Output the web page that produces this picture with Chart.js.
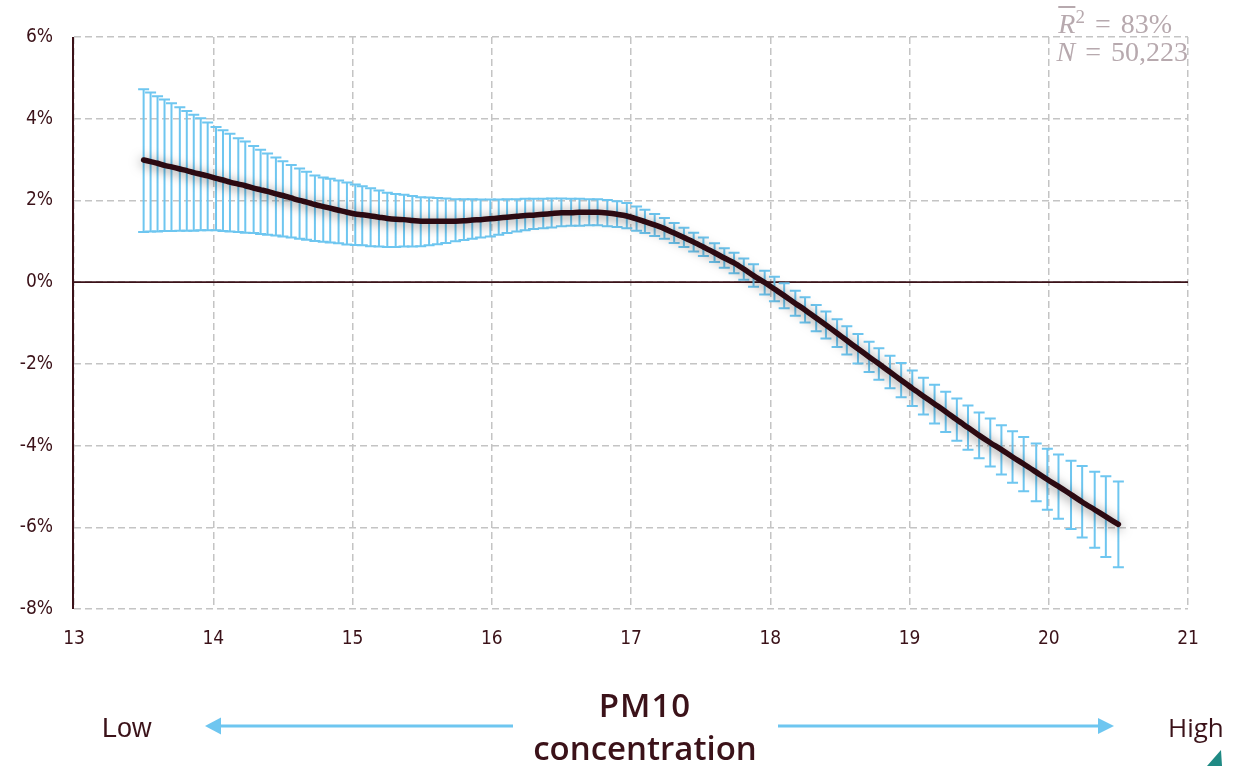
<!DOCTYPE html>
<html><head><meta charset="utf-8">
<script src="https://cdn.jsdelivr.net/npm/chart.js@4.4.1/dist/chart.umd.min.js"></script>
<style>
html,body{margin:0;padding:0;background:#fff;}
#wrap{position:relative;width:1248px;height:766px;overflow:hidden;background:#fff;}
#c{position:absolute;left:0;top:0;}
#ov{position:absolute;left:0;top:0;pointer-events:none;}
.t{position:absolute;white-space:nowrap;color:#3b1219;line-height:1;}
.stat{position:absolute;white-space:nowrap;color:#b7a9ae;font-family:'Liberation Serif','DejaVu Serif',serif;font-size:28px;line-height:1;text-align:right;word-spacing:3px;}
.stat i{font-style:italic;}
</style></head><body>
<div id="wrap">
<canvas id="c" width="1248" height="766"></canvas>
<svg id="ov" width="1248" height="766" viewBox="0 0 1248 766">
  <line x1="513" y1="726" x2="218" y2="726" stroke="#6ec6f0" stroke-width="3"/>
  <polygon points="205,726 221,717.5 221,734.5" fill="#6ec6f0"/>
  <line x1="778" y1="726" x2="1100" y2="726" stroke="#6ec6f0" stroke-width="3"/>
  <polygon points="1114,726 1098,718 1098,734" fill="#6ec6f0"/>
  <polygon points="1207,766 1221,750 1222,766" fill="#1f8a84"/>
</svg>
<div class="stat" style="right:76px;top:7px;"><i style="text-decoration:overline;">R</i><sup style="font-size:19px;vertical-align:10px;">2</sup>&nbsp;=&nbsp;83%</div>
<div class="stat" style="right:60px;top:38px;"><i>N</i>&nbsp;=&nbsp;50,223</div>
<div class="t" style="left:102px;top:715px;font-family:'Liberation Sans',Arial,sans-serif;font-size:27px;">Low</div>
<div class="t" style="left:1168px;top:714px;font-family:'Open Sans',sans-serif;font-size:26px;">High</div>
<div class="t" style="left:545px;width:200px;text-align:center;top:688px;font-family:'Open Sans',sans-serif;font-weight:600;font-size:33px;letter-spacing:1px;">PM10</div>
<div class="t" style="left:495px;width:300px;text-align:center;top:731px;font-family:'Open Sans',sans-serif;font-weight:600;font-size:33px;">concentration</div>
</div>
<script>
// PM10 concentration (x), estimated effect (%), and confidence bounds (%)
const pm10 = [13.50,13.55,13.60,13.65,13.70,13.76,13.81,13.86,13.91,13.96,
  14.02,14.07,14.12,14.18,14.23,14.29,14.34,14.39,14.45,14.50,
  14.56,14.62,14.67,14.73,14.79,14.84,14.90,14.96,15.02,15.07,
  15.13,15.19,15.25,15.31,15.37,15.43,15.49,15.55,15.61,15.67,
  15.74,15.80,15.86,15.92,15.99,16.05,16.11,16.18,16.24,16.30,
  16.37,16.43,16.50,16.57,16.63,16.70,16.76,16.83,16.90,16.97,
  17.04,17.10,17.17,17.24,17.31,17.38,17.45,17.52,17.60,17.67,
  17.74,17.81,17.88,17.96,18.03,18.10,18.18,18.25,18.33,18.40,
  18.48,18.55,18.63,18.71,18.78,18.86,18.94,19.02,19.10,19.18,
  19.26,19.34,19.42,19.50,19.58,19.66,19.74,19.82,19.91,19.99,
  20.07,20.16,20.24,20.33,20.41,20.50];
const effect = [2.99,2.95,2.91,2.86,2.82,2.77,2.73,2.68,2.64,2.60,
  2.54,2.50,2.45,2.40,2.36,2.30,2.26,2.22,2.16,2.12,
  2.06,2.00,1.96,1.90,1.85,1.81,1.76,1.71,1.67,1.65,
  1.62,1.59,1.56,1.54,1.53,1.51,1.49,1.49,1.49,1.49,
  1.49,1.50,1.52,1.53,1.55,1.57,1.59,1.61,1.63,1.64,
  1.66,1.68,1.70,1.70,1.71,1.71,1.71,1.69,1.66,1.62,
  1.55,1.48,1.40,1.31,1.20,1.09,0.98,0.86,0.72,0.59,
  0.47,0.32,0.16,-0.01,-0.17,-0.33,-0.52,-0.68,-0.88,-1.05,
  -1.25,-1.43,-1.63,-1.83,-2.00,-2.20,-2.40,-2.60,-2.79,-2.98,
  -3.17,-3.37,-3.56,-3.75,-3.93,-4.10,-4.28,-4.45,-4.65,-4.83,
  -5.00,-5.20,-5.38,-5.57,-5.74,-5.93];
const ciHigh = [4.72,4.64,4.55,4.47,4.38,4.28,4.19,4.10,4.01,3.91,
  3.80,3.72,3.63,3.52,3.44,3.33,3.24,3.15,3.05,2.96,
  2.87,2.78,2.70,2.61,2.56,2.53,2.49,2.44,2.39,2.35,
  2.30,2.24,2.19,2.16,2.14,2.11,2.08,2.07,2.06,2.05,
  2.03,2.03,2.03,2.02,2.02,2.02,2.03,2.03,2.04,2.04,
  2.04,2.05,2.05,2.04,2.04,2.03,2.03,2.01,1.98,1.94,
  1.85,1.77,1.67,1.57,1.45,1.33,1.21,1.09,0.95,0.83,
  0.72,0.58,0.44,0.28,0.13,-0.03,-0.21,-0.37,-0.56,-0.72,
  -0.91,-1.08,-1.27,-1.46,-1.62,-1.80,-1.98,-2.16,-2.34,-2.51,
  -2.68,-2.85,-3.02,-3.19,-3.34,-3.50,-3.65,-3.79,-3.95,-4.08,
  -4.22,-4.37,-4.50,-4.64,-4.75,-4.88];
const ciLow = [1.23,1.24,1.24,1.25,1.25,1.26,1.26,1.26,1.27,1.27,
  1.27,1.25,1.24,1.23,1.21,1.20,1.18,1.16,1.14,1.12,
  1.09,1.06,1.04,1.01,0.99,0.97,0.95,0.92,0.91,0.90,
  0.88,0.87,0.86,0.86,0.87,0.87,0.88,0.90,0.93,0.96,
  1.00,1.03,1.06,1.09,1.12,1.16,1.20,1.24,1.27,1.30,
  1.32,1.34,1.37,1.38,1.38,1.39,1.39,1.37,1.35,1.32,
  1.26,1.20,1.13,1.06,0.96,0.86,0.75,0.64,0.49,0.35,
  0.22,0.06,-0.11,-0.30,-0.47,-0.64,-0.82,-0.99,-1.20,-1.38,
  -1.59,-1.77,-1.99,-2.20,-2.39,-2.60,-2.82,-3.03,-3.24,-3.46,
  -3.67,-3.88,-4.10,-4.31,-4.51,-4.71,-4.91,-5.12,-5.36,-5.57,
  -5.79,-6.04,-6.25,-6.50,-6.73,-6.98];
const xTickValues = [13,14,15,16,17,18,19,20,21];
const yTickValues = [-8,-6,-4,-2,0,2,4,6];

const INK = '#3b1219';
const GRID = '#c4c4c4';
const BLUE = '#6ec6f0';
const TICKFONT = "'Liberation Sans Narrow', 'DejaVu Sans Condensed', 'Liberation Sans', sans-serif";

const decor = {
  id: 'decor',
  beforeDatasetsDraw(chart) {
    const {ctx, chartArea: a, scales: {x, y}} = chart;
    ctx.save();
    const y0 = y.getPixelForValue(0);
    ctx.strokeStyle = INK; ctx.lineWidth = 1.6;
    ctx.beginPath(); ctx.moveTo(a.left, y0); ctx.lineTo(a.right, y0); ctx.stroke();
    ctx.lineWidth = 2;
    ctx.beginPath(); ctx.moveTo(a.left - 1, y.getPixelForValue(6)); ctx.lineTo(a.left - 1, y.getPixelForValue(-8)); ctx.stroke();
    ctx.strokeStyle = BLUE; ctx.lineWidth = 2; ctx.lineCap = 'butt';
    const cap = 5.5;
    for (let i = 0; i < pm10.length; i++) {
      const px = x.getPixelForValue(pm10[i]);
      const yh = y.getPixelForValue(ciHigh[i]);
      const yl = y.getPixelForValue(ciLow[i]);
      ctx.beginPath();
      ctx.moveTo(px, yh); ctx.lineTo(px, yl);
      ctx.moveTo(px - cap, yh); ctx.lineTo(px + cap, yh);
      ctx.moveTo(px - cap, yl); ctx.lineTo(px + cap, yl);
      ctx.stroke();
    }
    ctx.restore();
  },
  beforeDatasetDraw(chart) {
    const ctx = chart.ctx;
    ctx.save();
    ctx.shadowColor = 'rgba(0,0,0,0.5)';
    ctx.shadowBlur = 12;
    ctx.shadowOffsetY = 2;
  },
  afterDatasetDraw(chart) { chart.ctx.restore(); }
};

new Chart(document.getElementById('c'), {
  type: 'scatter',
  data: {
    datasets: [{
      data: pm10.map((v, i) => ({x: v, y: effect[i]})),
      showLine: true,
      borderColor: '#2c0a12',
      borderWidth: 5.5,
      pointRadius: 0,
      tension: 0.3,
      borderCapStyle: 'round',
      borderJoinStyle: 'round',
      fill: false
    }]
  },
  options: {
    responsive: false,
    devicePixelRatio: 1,
    animation: false,
    layout: {padding: {left: 0, right: 60, top: 37, bottom: 0}},
    plugins: {legend: {display: false}, tooltip: {enabled: false}},
    scales: {
      x: {
        type: 'linear', min: 13, max: 21,
        afterBuildTicks: s => { s.ticks = xTickValues.map(v => ({value: v})); },
        afterFit: s => { s.height = 157; },
        ticks: {color: INK, padding: 19, font: {family: TICKFONT, size: 19}},
        grid: {color: GRID, lineWidth: 1.5, drawTicks: false},
        border: {display: false, dash: [7, 4]}
      },
      y: {
        min: -8, max: 6,
        afterBuildTicks: s => { s.ticks = yTickValues.map(v => ({value: v})); },
        afterFit: s => { s.width = 74; },
        ticks: {color: INK, padding: 21, font: {family: TICKFONT, size: 19}, callback: v => v + '%'},
        grid: {color: GRID, lineWidth: 1.5, drawTicks: false},
        border: {display: false, dash: [7, 4]}
      }
    }
  },
  plugins: [decor]
});
</script>
</body></html>
